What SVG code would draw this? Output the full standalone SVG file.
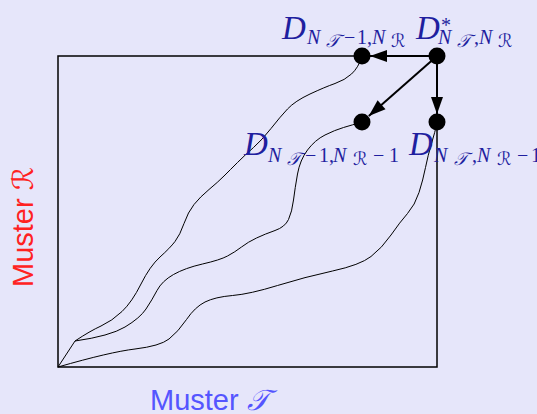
<svg xmlns="http://www.w3.org/2000/svg" width="537" height="414" viewBox="0 0 537 414">
<style>
.lbl{font-family:"Liberation Serif","DejaVu Serif",serif;font-style:italic;fill:#1f1f9f}
.big{font-size:33px}
.sub{font-size:20px}
.ss{font-size:18px;font-family:"DejaVu Sans","Liberation Serif",serif}
.rm{font-style:normal}
.curve{fill:none;stroke:#000;stroke-width:1}
.conn{stroke:#000;stroke-width:2;fill:none}
.node{fill:#000}
</style>
<defs>
<marker id="ah" viewBox="-17 -6 17 12" refX="0" refY="0" markerWidth="17" markerHeight="12" markerUnits="userSpaceOnUse" orient="auto" overflow="visible">
<path d="M0,0 L-17,-6 L-17,6 Z" fill="#000"/>
</marker>
</defs>
<rect width="537" height="414" fill="#e6e6fa"/>
<g id="frame">
<rect x="58" y="56" width="379" height="311" fill="none" stroke="#000" stroke-width="1.5"/>
</g>
<g id="curves">
<path class="curve" d="M58,367 L75,341 Q90,331 101,326 Q112,321 122,311.5 Q132,302 141,284 Q150,266 160,257 Q170,248 175,241.5 Q180,235 184,223.5 Q188,212 194,204.5 Q200,197 209,189.5 Q218,182 224,176 Q230,170 237.5,162.5 Q245,155 253.5,147.5 Q262,140 271,128.5 Q280,117 287.5,109 Q295,101 310,94 Q325,87 335,83.5 Q345,80 351.5,74 Q358,68 362,57"/>
<path class="curve" d="M75,341 Q110,336 125,327 Q140,318 146,309 Q152,300 157,290.5 Q162,281 173.5,274.5 Q185,268 202.5,264 Q220,260 227.5,256 Q235,252 241.5,247 Q248,242 256.5,238 Q265,234 275,230.5 Q285,227 288.5,219.5 Q292,212 293.5,200 Q295,188 297.5,174 Q300,160 307.5,150 Q315,140 325,135 Q335,130 343.5,127.5 Q352,125 362,122"/>
<path class="curve" d="M58,367 Q110,352 135,349 Q160,346 169,339 Q178,332 186.5,319.5 Q195,307 205,302 Q215,297 232.5,295.5 Q250,294 277.5,285.5 Q305,277 332.5,271 Q360,265 371,256.5 Q382,248 391,235 Q400,222 407.5,213.5 Q415,205 419,192.5 Q423,180 425.5,167.5 Q428,155 431.5,143.5 Q435,132 437,123"/>
</g>
<g id="connectors">
<line class="conn" x1="437" y1="56" x2="370" y2="56" marker-end="url(#ah)"/>
<line class="conn" x1="437" y1="56" x2="368.8" y2="116.1" marker-end="url(#ah)"/>
<line class="conn" x1="437" y1="56" x2="437" y2="114" marker-end="url(#ah)"/>
</g>
<g id="node-a">
<circle class="node" cx="362" cy="56" r="8.5"/>
<text class="lbl" y="39"><tspan class="big" x="282">D</tspan><tspan class="sub" x="307" y="44">N</tspan><tspan class="ss" x="326" y="47">𝒯</tspan><tspan class="sub rm" x="344" y="44">−</tspan><tspan class="sub rm" x="357">1</tspan><tspan class="sub rm" x="367">,</tspan><tspan class="sub" x="372">N</tspan><tspan class="ss" x="391" y="47">ℛ</tspan></text>
</g>
<g id="node-b">
<circle class="node" cx="437" cy="56" r="8.5"/>
<text class="lbl" y="39"><tspan class="big" x="416">D</tspan><tspan class="sub rm" x="441" y="32">*</tspan><tspan class="sub" x="438" y="44">N</tspan><tspan class="ss" x="457" y="47">𝒯</tspan><tspan class="sub rm" x="474" y="44">,</tspan><tspan class="sub" x="479">N</tspan><tspan class="ss" x="498" y="47">ℛ</tspan></text>
</g>
<g id="node-c">
<circle class="node" cx="362" cy="122" r="8.5"/>
<text class="lbl" y="155"><tspan class="big" x="244">D</tspan><tspan class="sub" x="268" y="162">N</tspan><tspan class="ss" x="287" y="165">𝒯</tspan><tspan class="sub rm" x="305" y="162">−</tspan><tspan class="sub rm" x="319">1</tspan><tspan class="sub rm" x="329">,</tspan><tspan class="sub" x="333">N</tspan><tspan class="ss" x="353" y="165">ℛ</tspan><tspan class="sub rm" x="373" y="162">−</tspan><tspan class="sub rm" x="389">1</tspan></text>
</g>
<g id="node-d">
<circle class="node" cx="437" cy="122" r="8.5"/>
<text class="lbl" y="155"><tspan class="big" x="409">D</tspan><tspan class="sub" x="434" y="162">N</tspan><tspan class="ss" x="454" y="165">𝒯</tspan><tspan class="sub rm" x="472" y="162">,</tspan><tspan class="sub" x="477">N</tspan><tspan class="ss" x="497" y="165">ℛ</tspan><tspan class="sub rm" x="517" y="162">−</tspan><tspan class="sub rm" x="531">1</tspan></text>
</g>
<g id="axis-labels">
<text x="150" y="410" font-family="Liberation Sans, Arial, sans-serif" font-size="29" fill="#5555ff">Muster <tspan font-family="DejaVu Sans, sans-serif" font-style="italic">𝒯</tspan></text>
<text transform="translate(33,287) rotate(-90)" font-family="Liberation Sans, Arial, sans-serif" font-size="29" fill="#ff2222">Muster <tspan font-family="DejaVu Sans, sans-serif" font-style="italic">ℛ</tspan></text>
</g>
</svg>
